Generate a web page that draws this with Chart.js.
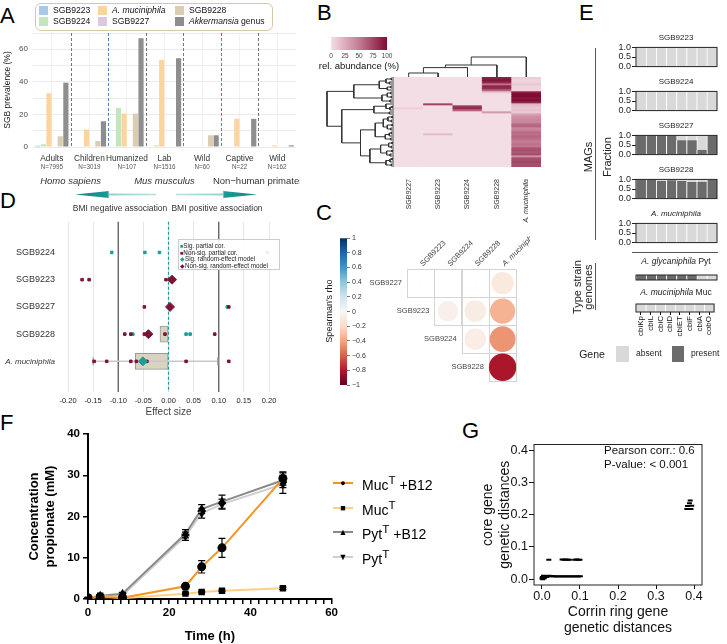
<!DOCTYPE html>
<html>
<head>
<meta charset="utf-8">
<title>Akkermansia SGBs</title>
<script src="https://cdn.jsdelivr.net/npm/chart.js@4.4.1/dist/chart.umd.min.js"></script>
<style>
  body { margin: 0; background: #fff; }
  #page { position: relative; width: 727px; height: 644px; overflow: hidden; font-family: "Liberation Sans", Arial, sans-serif; color: #222; }
  #page canvas { position: absolute; }
  .t { position: absolute; white-space: nowrap; line-height: 1.15; }
  .letter { position: absolute; font-size: 22px; line-height: 22px; color: #000; }
</style>
</head>
<body>
<div id="page"></div>
<script>
// ---------- A: prevalence (%) per host group ----------
const hostGroups = ['Adults', 'Children', 'Humanized', 'Lab', 'Wild', 'Captive', 'Wild'];
const hostN = ['N=7995', 'N=3019', 'N=107', 'N=1516', 'N=60', 'N=22', 'N=162'];
const prevSGB9223 = [0.8, 0.3, 0, 0, 0, 0, 0];
const prevSGB9224 = [1.7, 0.3, 24, 1.0, 0, 0, 0];
const prevMuc = [33, 10.7, 20.5, 53.5, 0, 17.3, 1.0];
const prevSGB9227 = [0, 0, 0, 0, 0, 0, 0];
const prevSGB9228 = [6.6, 3.6, 20.5, 0, 7.2, 0, 0];
const prevGenus = [39.5, 15.8, 66.8, 54.5, 7.2, 17.3, 1.0];
const speciesNames = ['Homo sapiens', 'Mus musculus', 'Non\u2212human primates'];
const speciesFirst = [0, 2, 5];
const speciesLast = [1, 4, 6];
const dividerColors = ['#777', '#5b7ec6', '#777', '#777', '#5b7ec6', '#777'];

// ---------- B: relative abundance heatmap ----------
const hmCols = ['SGB9227', 'SGB9223', 'SGB9224', 'SGB9228', 'A. muciniphila'];
const hm9227 = [0,0,0,0,0,0,0,0,0,0,0,0,0,0,0,8,0,0,0,0,0,0,0,0,0,0,0,0,0,0,0,0,0,0,0,0,0,0,0,0,0,0,0,0,0];
const hm9223 = [0,0,0,0,0,0,0,0,0,0,0,0,0,75,0,0,0,0,0,0,0,0,0,0,0,0,0,0,18,0,0,0,0,0,0,0,0,0,0,0,0,0,0,0,0];
const hm9224 = [0,0,0,0,0,0,0,0,0,0,0,0,0,0,80,85,60,0,0,0,0,0,0,0,0,0,0,0,0,0,0,0,0,0,0,0,0,0,0,0,0,0,0,0,0];
const hm9228 = [92,97,88,55,90,85,60,12,0,0,0,0,0,0,0,0,0,35,0,0,0,0,0,0,0,0,0,0,0,0,0,0,0,0,0,0,0,0,0,0,0,0,0,0,0];
const hmMuc  = [8,5,5,12,5,5,5,92,100,100,95,100,88,20,15,12,15,10,30,40,42,45,44,58,60,45,48,58,55,60,57,52,50,55,52,68,70,66,72,40,70,72,74,70,72];
const abundTicks = [0, 25, 50, 75, 100];
const colTree = [[[[0, 1, 0.2], 2, 0.47], 3, 0.6], 4, 1.0];
const rowTree = [
  [
    [[[0, 1, 0.04], [2, 3, 0.07], 0.12], [[4, 5, 0.05], 6, 0.1], 0.22],
    [[[7, 8, 0.05], [9, 10, 0.04], 0.1], [11, 12, 0.06], 0.18],
    0.6],
  [
    [[13, [[14, 15, 0.03], 16, 0.06], 0.12], [17, 18, 0.07], 0.3],
    [
      [[[[19, 20, 0.03], [21, 22, 0.04], 0.09], [[23, 24, 0.03], [25, 26, 0.05], 0.1], 0.16],
       [[[27, 28, 0.04], 29, 0.07], [30, 31, 0.05], 0.13], 0.28],
      [[[[32, 33, 0.03], [34, 35, 0.04], 0.08], [[36, 37, 0.03], [38, 39, 0.06], 0.11], 0.2],
       [[[40, 41, 0.03], 42, 0.06], [43, 44, 0.04], 0.12], 0.36],
      0.5],
    0.78],
  1.0];

// ---------- C: Spearman correlation ----------
const corrRows = ['SGB9227', 'SGB9223', 'SGB9224', 'SGB9228'];
const corrCols = ['SGB9223', 'SGB9224', 'SGB9228', 'A. muciniphila'];
const rhoSGB9227 = [-0.004, -0.006, 0, -0.1];
const rhoSGB9223 = [null, -0.05, -0.08, -0.35];
const rhoSGB9224 = [null, null, -0.07, -0.45];
const rhoSGB9228 = [null, null, null, -0.82];
const rhoTicks = [-1, -0.8, -0.6, -0.4, -0.2, 0, 0.2, 0.4, 0.6, 0.8, 1];

// ---------- D: BMI association effect sizes ----------
const dTaxa = ['SGB9224', 'SGB9223', 'SGB9227', 'SGB9228', 'A. muciniphila'];
const dSigPartialX = [-0.113, -0.047, -0.018, 0.117, -0.071, 0.035, 0.043];
const dSigPartialRow = [0, 0, 0, 2, 3, 3, 3];
const dNonSigPartialX = [0.025, 0.197, -0.172, -0.158, -0.005, -0.048, 0.12, -0.087, -0.075, -0.048, -0.007, 0.092, -0.148, -0.123, -0.075, -0.064, -0.043, 0.035, 0.12];
const dNonSigPartialRow = [0, 0, 1, 1, 1, 2, 2, 3, 3, 3, 3, 3, 4, 4, 4, 4, 4, 4, 4];
const dSigModelX = [-0.051];
const dSigModelRow = [4];
const dNonSigModelX = [0.04, 0.007, 0.003, -0.04];
const dNonSigModelRow = [0, 1, 2, 3];
const dBoxRow = [3, 4];
const dBoxLo = [-0.017, -0.066];
const dBoxHi = [0, 0];
const dWhiskerRow = 4;
const dWhiskerLo = -0.15;
const dWhiskerHi = 0.098;
const dRefLines = [-0.1, 0.1];

// ---------- E: corrin ring genes ----------
const genes = ['cbiKp', 'cbiL', 'cbiC', 'cbiD', 'cbiET', 'cbiF', 'cbiA', 'cobO'];
const magNames = ['SGB9223', 'SGB9224', 'SGB9227', 'SGB9228', 'A. muciniphila'];
const presentSGB9223 = [0, 0, 0, 0, 0, 0, 0, 0];
const presentSGB9224 = [0, 0, 0, 0, 0, 0, 0, 0];
const presentSGB9227 = [1, 1, 1, 1, 0.75, 0.75, 0.25, 1];
const presentSGB9228 = [1, 1, 0.92, 0.95, 0.92, 0.87, 0.88, 0.97];
const presentMuc = [0, 0, 0, 0, 0, 0, 0, 0];
const presentPytStrain = [1, 1, 1, 1, 1, 1, 0, 0];
const presentMucStrain = [0, 0, 0, 0, 0, 0, 0, 0];

// ---------- F: propionate production ----------
const timeH = [0, 3, 8.5, 24, 28, 33, 48];
const mucB12 = [0.3, 0.5, 0.3, 3.1, 7.8, 12.4, 29.2];
const mucB12Err = [0.1, 0.2, 0.1, 0.3, 1.5, 2.3, 1.6];
const mucNoB12 = [0.3, 0.8, 0.2, 1.3, 1.7, 2.0, 2.6];
const mucNoB12Err = [0, 0, 0, 0.2, 0.2, 0.2, 0.3];
const pytB12 = [0.3, 0.8, 1.3, 15.8, 21.8, 23.6, 28.8];
const pytB12Err = [0.1, 0.2, 0.3, 1.0, 1.1, 1.6, 1.8];
const pytNoB12 = [0.2, 0.6, 0.9, 15.2, 20.8, 23.0, 27.8];
const pytNoB12Err = [0.1, 0.2, 0.2, 1.0, 1.2, 1.2, 2.2];

// ---------- G: genetic distances ----------
const corrinDist = [0.000, 0.002, 0.003, 0.005, 0.006, 0.008, 0.010, 0.012, 0.014, 0.016, 0.018, 0.020, 0.023, 0.026, 0.030, 0.004, 0.001,
  0.018,
  0.053, 0.058, 0.063, 0.068, 0.072, 0.086, 0.091, 0.096, 0.100,
  0.036, 0.042, 0.048, 0.054, 0.060, 0.066, 0.072, 0.078, 0.084, 0.090, 0.096, 0.101,
  0.381, 0.392, 0.383, 0.394, 0.388, 0.390];
const coreDist = [0.002, 0.000, 0.006, 0.010, 0.003, 0.008, 0.010, 0.007, 0.010, 0.009, 0.011, 0.010, 0.009, 0.010, 0.009, 0.011, 0.007,
  0.060,
  0.061, 0.060, 0.061, 0.060, 0.060, 0.060, 0.061, 0.060, 0.060,
  0.008, 0.009, 0.008, 0.009, 0.008, 0.009, 0.008, 0.009, 0.008, 0.009, 0.008, 0.009,
  0.218, 0.218, 0.227, 0.228, 0.236, 0.244];

// ================= helpers =================
Chart.defaults.font.family = '"Liberation Sans", Arial, sans-serif';
Chart.defaults.color = '#333';
Chart.defaults.animation = false;
Chart.defaults.plugins.legend.display = false;
Chart.defaults.plugins.tooltip.enabled = false;

const page = document.getElementById('page');

function cv(left, top, w, h) {
  const c = document.createElement('canvas');
  c.width = w; c.height = h;
  c.style.left = left + 'px'; c.style.top = top + 'px';
  c.style.width = w + 'px'; c.style.height = h + 'px';
  page.appendChild(c);
  return c;
}
function txt(html, x, y, size, opts = {}) {
  const d = document.createElement('div');
  d.className = 't';
  d.innerHTML = html;
  d.style.fontSize = size + 'px';
  d.style.left = x + 'px';
  d.style.top = y + 'px';
  const align = opts.align || 'center';
  const tx = align === 'center' ? '-50%' : (align === 'right' ? '-100%' : '0');
  d.style.transform = `translate(${tx},-50%)`;
  if (opts.rot) d.style.transform = `translate(-50%,-50%) rotate(${opts.rot}deg)`;
  if (opts.color) d.style.color = opts.color;
  if (opts.style) d.style.cssText += opts.style;
  page.appendChild(d);
  return d;
}
function box(left, top, w, h, style) {
  const d = document.createElement('div');
  d.style.cssText = `position:absolute;left:${left}px;top:${top}px;width:${w}px;height:${h}px;` + style;
  page.appendChild(d);
  return d;
}
const fixW = w => s => { s.width = w; };
const fixH = h => s => { s.height = h; };
const frame = (color, lw) => ({
  id: 'frame',
  afterDraw(chart) {
    const { ctx, chartArea: a } = chart;
    ctx.save(); ctx.strokeStyle = color; ctx.lineWidth = lw;
    ctx.strokeRect(a.left, a.top, a.right - a.left, a.bottom - a.top);
    ctx.restore();
  }
});
function lerpColor(stops, t) {
  t = Math.max(0, Math.min(1, t));
  for (let i = 1; i < stops.length; i++) {
    if (t <= stops[i][0]) {
      const [t0, c0] = stops[i - 1], [t1, c1] = stops[i];
      const f = (t - t0) / (t1 - t0 || 1);
      return 'rgb(' + c0.map((v, k) => Math.round(v + (c1[k] - v) * f)).join(',') + ')';
    }
  }
  return 'rgb(' + stops[stops.length - 1][1].join(',') + ')';
}
const abundStops = [[0, [244, 222, 229]], [0.5, [196, 124, 148]], [1, [128, 12, 52]]];
const rdbuStops = [[0, [103, 0, 31]], [0.1, [178, 24, 43]], [0.2, [214, 96, 77]], [0.3, [244, 165, 130]], [0.4, [253, 219, 199]],
  [0.5, [247, 247, 247]], [0.6, [209, 229, 240]], [0.7, [146, 197, 222]], [0.8, [67, 147, 195]], [0.9, [33, 102, 172]], [1, [5, 48, 97]]];
const abundColor = v => lerpColor(abundStops, v / 100);
const rhoColor = v => lerpColor(rdbuStops, (v + 1) / 2);

// panel letters
[['A', 0, 5], ['B', 317, 2], ['C', 316, 202], ['D', 0, 190], ['E', 579, 2], ['F', 0, 412], ['G', 462, 420]].forEach(([l, x, y]) => {
  const d = document.createElement('div');
  d.className = 'letter'; d.textContent = l; d.style.left = x + 'px'; d.style.top = y + 'px';
  page.appendChild(d);
});

// ================= A =================
const aSeries = [
  ['SGB9223', '#aac8e8', prevSGB9223],
  ['SGB9224', '#c2e6bd', prevSGB9224],
  ['A. muciniphila', '#fdd49e', prevMuc],
  ['SGB9227', '#dcc6e0', prevSGB9227],
  ['SGB9228', '#dacdb2', prevSGB9228],
  ['Akkermansia genus', '#8e8e8e', prevGenus]
];
const aPlugin = {
  id: 'aLabels',
  beforeDatasetsDraw(chart) {
    const { ctx, chartArea: a, scales: { x } } = chart;
    ctx.save();
    ctx.setLineDash([3, 2]); ctx.lineWidth = 1;
    dividerColors.forEach((c, i) => {
      const px = Math.round((x.getPixelForValue(i) + x.getPixelForValue(i + 1)) / 2) + 0.5;
      ctx.strokeStyle = c;
      ctx.beginPath(); ctx.moveTo(px, a.top); ctx.lineTo(px, a.bottom); ctx.stroke();
    });
    ctx.restore();
  },
  afterDraw(chart) {
    const { ctx, scales: { x } } = chart;
    ctx.save(); ctx.textAlign = 'center';
    hostGroups.forEach((g, i) => {
      const px = x.getPixelForValue(i);
      ctx.fillStyle = '#333'; ctx.font = '8.3px "Liberation Sans"'; ctx.fillText(g, px, 161);
      ctx.fillStyle = '#555'; ctx.font = '6.3px "Liberation Sans"'; ctx.fillText(hostN[i], px, 168.5);
    });
    speciesNames.forEach((s, i) => {
      const px = (x.getPixelForValue(speciesFirst[i]) + x.getPixelForValue(speciesLast[i])) / 2;
      ctx.fillStyle = '#333';
      ctx.font = (i < 2 ? 'italic ' : '') + '9.5px "Liberation Sans"';
      ctx.fillText(s, px, 184);
    });
    ctx.restore();
  }
};
new Chart(cv(0, 0, 300, 195), {
  type: 'bar',
  data: {
    labels: hostGroups,
    datasets: aSeries.map(([name, color, data]) => ({ label: name, data, backgroundColor: color, categoryPercentage: 0.9, barPercentage: 0.92 }))
  },
  options: {
    responsive: false,
    layout: { padding: { top: 33, right: 4, left: 0, bottom: 0 } },
    scales: {
      x: { ticks: { display: false }, grid: { offset: false, color: '#f1f1f1', drawTicks: false }, border: { display: false }, afterFit: fixH(48) },
      y: {
        min: 0, max: 70,
        ticks: { stepSize: 10, callback: v => (v % 20 === 0 ? v : ''), font: { size: 8 }, color: '#4d4d4d', padding: 5 },
        grid: { color: '#ebebeb', drawTicks: false }, border: { display: false },
        title: { display: true, text: 'SGB prevalence (%)', font: { size: 8.5 }, color: '#222', padding: { top: 3, bottom: 2 } },
        afterFit: fixW(33)
      }
    }
  },
  plugins: [aPlugin]
});
// legend A
box(35, 3, 236, 26, 'border:1px solid #d5c8a7;border-radius:6px;background:#fff;');
aSeries.forEach(([name, color], i) => {
  const col = Math.floor(i / 2), row = i % 2;
  const x = [39, 98, 175][col], y = [11, 22][row];
  box(x, y - 5, 9, 9, 'background:' + color + ';');
  const html = name.replace('A. muciniphila', '<i>A. muciniphila</i>').replace('Akkermansia', '<i>Akkermansia</i>');
  txt(html, x + 14, y, 8.6, { align: 'left', color: '#111' });
});

// ================= B =================
// colour bar
new Chart(cv(320, 35, 80, 25), {
  type: 'bar',
  data: {
    labels: [''],
    datasets: [{
      data: [[0, 100]], categoryPercentage: 1, barPercentage: 1,
      backgroundColor: c => {
        const a = c.chart.chartArea; if (!a) return '#ccc';
        const g = c.chart.ctx.createLinearGradient(a.left, 0, a.right, 0);
        abundStops.forEach(([t, rgb]) => g.addColorStop(t, `rgb(${rgb.join(',')})`));
        return g;
      }
    }]
  },
  options: {
    responsive: false, indexAxis: 'y',
    layout: { padding: { left: 11, right: 13, top: 2, bottom: 0 } },
    scales: {
      y: { display: false },
      x: { min: 0, max: 100, afterBuildTicks: s => { s.ticks = abundTicks.map(v => ({ value: v })); },
           ticks: { font: { size: 6.5 }, color: '#444', padding: 2, autoSkip: false, maxRotation: 0 },
           grid: { display: false, drawTicks: false }, border: { display: false }, afterFit: fixH(10) }
    }
  }
});
txt('rel. abundance (%)', 359, 66, 9.5, { color: '#111' });

// heatmap
new Chart(cv(394, 77, 147, 150), {
  type: 'bar',
  data: {
    labels: hmCols,
    datasets: hm9227.map((_, k) => ({
      data: hmCols.map(() => [k, k + 1]),
      backgroundColor: [hm9227[k], hm9223[k], hm9224[k], hm9228[k], hmMuc[k]].map(abundColor),
      grouped: false, categoryPercentage: 1, barPercentage: 1, borderWidth: 0
    }))
  },
  options: {
    responsive: false,
    layout: { padding: 0 },
    scales: {
      y: { display: false, min: 0, max: hm9227.length, reverse: true },
      x: {
        ticks: { minRotation: 90, maxRotation: 90, padding: 4, color: '#333', autoSkip: false,
                 font: c => ({ size: 7, style: c.index === 4 ? 'italic' : 'normal' }) },
        grid: { display: false }, border: { display: false }, afterFit: fixH(60)
      }
    }
  }
});

function treeSegs(node) {
  if (typeof node === 'number') return { pos: node, h: 0, segs: [] };
  const a = treeSegs(node[0]), b = treeSegs(node[1]);
  const seg = [[a.pos, a.h], [a.pos, node[2]], [b.pos, node[2]], [b.pos, b.h]];
  return { pos: (a.pos + b.pos) / 2, h: node[2], segs: [...a.segs, ...b.segs, seg] };
}
// column dendrogram
new Chart(cv(394, 55, 147, 22), {
  type: 'scatter',
  data: { datasets: treeSegs(colTree).segs.map(s => ({ data: s.map(([p, h]) => ({ x: p, y: h })), showLine: true, borderColor: '#333', borderWidth: 1, pointRadius: 0 })) },
  options: { responsive: false, layout: { padding: 0 }, scales: { x: { display: false, min: -0.5, max: 4.5 }, y: { display: false, min: 0, max: 1.1 } } }
});
// row dendrogram
new Chart(cv(325, 77, 69, 90), {
  type: 'scatter',
  data: { datasets: treeSegs(rowTree).segs.map(s => ({ data: s.map(([p, h]) => ({ x: h, y: p + 0.5 })), showLine: true, borderColor: '#333', borderWidth: 1, pointRadius: 0 })) },
  options: { responsive: false, layout: { padding: 0 }, scales: { x: { display: false, min: 0, max: 1.03, reverse: true }, y: { display: false, min: 0, max: hm9227.length, reverse: true } } }
});

// ================= C =================
new Chart(cv(320, 232, 50, 160), {
  type: 'bar',
  data: {
    labels: [''],
    datasets: [{
      data: [[-1, 1]], categoryPercentage: 1, barPercentage: 1,
      backgroundColor: c => {
        const a = c.chart.chartArea; if (!a) return '#ccc';
        const g = c.chart.ctx.createLinearGradient(0, a.bottom, 0, a.top);
        rdbuStops.forEach(([t, rgb]) => g.addColorStop(t, `rgb(${rgb.join(',')})`));
        return g;
      }
    }]
  },
  options: {
    responsive: false,
    layout: { padding: { left: 20, right: 0, top: 6, bottom: 7 } },
    scales: {
      x: { display: false },
      y: {
        position: 'right', min: -1, max: 1,
        afterBuildTicks: s => { s.ticks = rhoTicks.map(v => ({ value: v })); },
        ticks: { font: { size: 7 }, color: '#333', padding: 2, autoSkip: false,
                 callback: v => (Math.abs(v) < 1e-9 ? '0' : (v < 0 ? '\u2212' : '') + parseFloat(Math.abs(v).toFixed(1))) },
        grid: { drawOnChartArea: false, tickLength: 3, color: '#777' }, border: { display: false },
        afterFit: fixW(23)
      }
    }
  }
});
txt("Spearman's rho", 329, 311, 9, { rot: -90, color: '#222' });

const rhoMatrix = [rhoSGB9227, rhoSGB9223, rhoSGB9224, rhoSGB9228];
const corrPoints = [];
rhoMatrix.forEach((row, i) => row.forEach((v, j) => { if (v !== null) corrPoints.push({ x: j, y: i, v }); }));
const cPlugin = {
  id: 'cGrid',
  beforeDatasetsDraw(chart) {
    const { ctx, scales: { x, y } } = chart;
    ctx.save(); ctx.strokeStyle = '#d4d4d4'; ctx.lineWidth = 1;
    corrPoints.forEach(p => {
      const x0 = x.getPixelForValue(p.x - 0.5), x1 = x.getPixelForValue(p.x + 0.5);
      const y0 = y.getPixelForValue(p.y - 0.5), y1 = y.getPixelForValue(p.y + 0.5);
      ctx.strokeRect(Math.round(x0) + 0.5, Math.round(y0) + 0.5, Math.round(x1 - x0), Math.round(y1 - y0));
    });
    ctx.restore();
  },
  afterDraw(chart) {
    const { ctx, scales: { x, y } } = chart;
    ctx.save(); ctx.fillStyle = '#444';
    corrRows.forEach((name, i) => {
      ctx.font = '7.5px "Liberation Sans"'; ctx.textAlign = 'right'; ctx.textBaseline = 'middle';
      ctx.fillText(name, x.getPixelForValue(i - 0.5) - 5, y.getPixelForValue(i));
    });
    corrCols.forEach((name, j) => {
      ctx.save();
      ctx.translate(x.getPixelForValue(j) + 1, y.getPixelForValue(-0.5) - 4);
      ctx.rotate(-Math.PI / 4);
      ctx.font = (j === 3 ? 'italic ' : '') + '7.5px "Liberation Sans"';
      ctx.textAlign = 'left'; ctx.textBaseline = 'middle';
      ctx.fillText(name, 0, 0);
      ctx.restore();
    });
    ctx.restore();
  }
};
new Chart(cv(355, 225, 175, 170), {
  type: 'scatter',
  data: {
    datasets: [{
      data: corrPoints,
      pointRadius: c => (Math.abs(c.raw.v) < 0.02 ? 0.8 : 14 * Math.pow(Math.abs(c.raw.v), 0.1)),
      backgroundColor: c => rhoColor(c.raw.v), borderWidth: 0
    }]
  },
  options: {
    responsive: false,
    layout: { padding: { left: 52, right: 5, top: 44, bottom: 8 } },
    scales: { x: { display: false, min: -0.5, max: 3.5 }, y: { display: false, min: -0.5, max: 3.5, reverse: true } }
  },
  plugins: [cPlugin]
});

// ================= D =================
const teal = '#1f9c9a', maroon = '#7d1435';
function arrow(left, top, w, dir) {
  const d = box(left, top, w, 7, '');
  const g = dir > 0 ? 'to right' : 'to left';
  d.style.background = `linear-gradient(${g}, #b5e2df 0%, #8fd2cd 58%, #1a9893 60%, #0f8a85 100%)`;
  d.style.clipPath = dir > 0
    ? 'polygon(0 40%, 58% 36%, 58% 0, 100% 50%, 58% 100%, 58% 64%, 0 60%)'
    : 'polygon(100% 40%, 42% 36%, 42% 0, 0 50%, 42% 100%, 42% 64%, 100% 60%)';
}
arrow(75, 191, 81, -1);
arrow(176, 191, 81, 1);
txt('BMI negative association', 120, 209, 8.5, { color: '#333' });
txt('BMI positive association', 217, 209, 8.5, { color: '#333' });

const dPlugin = {
  id: 'dRef',
  beforeDatasetsDraw(chart) {
    const { ctx, chartArea: a, scales: { x } } = chart;
    ctx.save();
    ctx.strokeStyle = '#666'; ctx.lineWidth = 1.4;
    dRefLines.forEach(v => {
      const px = x.getPixelForValue(v);
      ctx.beginPath(); ctx.moveTo(px, a.top); ctx.lineTo(px, a.bottom); ctx.stroke();
    });
    ctx.setLineDash([3, 2]); ctx.strokeStyle = teal; ctx.lineWidth = 1.2;
    const p0 = x.getPixelForValue(0);
    ctx.beginPath(); ctx.moveTo(p0, a.top); ctx.lineTo(p0, a.bottom); ctx.stroke();
    ctx.restore();
  }
};
const pts = (xs, rows) => xs.map((v, i) => ({ x: v, y: rows[i] }));
new Chart(cv(0, 212, 282, 210), {
  type: 'scatter',
  data: {
    datasets: [
      { data: pts(dNonSigModelX, dNonSigModelRow), pointStyle: 'rectRot', pointRadius: 4.5, backgroundColor: maroon, borderColor: maroon },
      { data: pts(dSigModelX, dSigModelRow), pointStyle: 'rectRot', pointRadius: 4.5, backgroundColor: teal, borderColor: teal },
      { data: pts(dNonSigPartialX, dNonSigPartialRow), pointStyle: 'rect', pointRadius: 1.8, backgroundColor: maroon, borderColor: maroon },
      { data: pts(dSigPartialX, dSigPartialRow), pointStyle: 'rect', pointRadius: 1.8, backgroundColor: teal, borderColor: teal },
      { type: 'scatter', data: [{ x: dWhiskerLo, y: dWhiskerRow }, { x: dWhiskerHi, y: dWhiskerRow }], pointStyle: 'line', rotation: 90, pointRadius: 4, borderColor: '#aaa', borderWidth: 1.5 },
      { type: 'line', data: [{ x: dWhiskerLo, y: dWhiskerRow }, { x: dWhiskerHi, y: dWhiskerRow }], borderColor: '#c8c8c8', borderWidth: 1.5, pointRadius: 0 },
      { type: 'bar', indexAxis: 'y', data: dBoxRow.map((r, i) => ({ y: r, x: [dBoxLo[i], dBoxHi[i]] })), barThickness: 16,
        backgroundColor: '#d8d4c0', borderColor: '#999', borderWidth: 1, borderSkipped: false }
    ]
  },
  options: {
    responsive: false,
    layout: { padding: { top: 3, right: 13, left: 0, bottom: 0 } },
    scales: {
      x: {
        type: 'linear', min: -0.2, max: 0.2,
        ticks: { stepSize: 0.05, callback: v => v.toFixed(2), font: { size: 7.5 }, color: '#222', padding: 4 },
        grid: { color: '#e6e6e6', drawTicks: false }, border: { display: false },
        title: { display: true, text: 'Effect size', font: { size: 10 }, color: '#444', padding: { top: 0, bottom: 4 } },
        afterFit: fixH(30)
      },
      y: {
        type: 'linear', min: -0.5, max: 4.5, reverse: true,
        afterBuildTicks: s => { s.ticks = dTaxa.map((_, i) => ({ value: i })); },
        ticks: { callback: v => dTaxa[v], color: '#333', padding: 5, autoSkip: false,
                 font: c => (c.index === 4 ? { size: 8, style: 'italic' } : { size: 9, style: 'normal' }) },
        grid: { display: false }, border: { display: false }, afterFit: fixW(68)
      }
    }
  },
  plugins: [dPlugin]
});
// legend D
box(178, 239, 100, 29, 'border:1px solid #ccc;background:rgba(255,255,255,0.92);');
[['\u25A0', teal, 'Sig. partial cor.'], ['\u25A0', maroon, 'Non-sig. partial cor.'],
 ['\u25C6', teal, 'Sig. random-effect model'], ['\u25C6', maroon, 'Non-sig. random-effect model']].forEach(([g, c, l], i) => {
  txt(`<span style="color:${c};font-size:5.5px">${g}</span>${l}`, 180, 246 + i * 6.7, 6.3, { align: 'left', color: '#222', style: 'line-height:7px;' });
});

// ================= E =================
const grey = '#6b6b6b', light = '#d9d9d9';
function geneChart(top, h, present, showY, showGenes) {
  const extra = showGenes ? 30 : 0;
  new Chart(cv(606, top - 3, 114, h + 6 + extra), {
    type: 'bar',
    data: {
      labels: genes,
      datasets: [
        { data: present, backgroundColor: grey },
        { data: present.map(p => 1 - p), backgroundColor: light }
      ]
    },
    options: {
      responsive: false,
      layout: { padding: { top: 3, right: 3, bottom: showGenes ? 0 : 3, left: 0 } },
      datasets: { bar: { categoryPercentage: 1, barPercentage: 1, borderColor: '#fff', borderWidth: { left: 1, right: 0, top: 0, bottom: 0 }, borderSkipped: false } },
      scales: {
        x: {
          stacked: true, display: showGenes,
          ticks: { minRotation: 90, maxRotation: 90, font: { size: 8 }, color: '#111', padding: 1, autoSkip: false },
          grid: { drawOnChartArea: false, offset: false, tickLength: 3, color: '#111' }, border: { display: false },
          afterFit: fixH(extra)
        },
        y: {
          stacked: true, min: 0, max: 1, display: showY,
          afterBuildTicks: s => { s.ticks = [0, 0.5, 1].map(v => ({ value: v })); },
          ticks: { callback: v => v.toFixed(1), font: { size: 9 }, color: '#222', padding: 1, autoSkip: false },
          grid: { drawOnChartArea: false, tickLength: 4, color: '#222' }, border: { display: false },
          afterFit: fixW(30)
        }
      }
    },
    plugins: [frame('#222', 1)]
  });
}
const magPresent = [presentSGB9223, presentSGB9224, presentSGB9227, presentSGB9228, presentMuc];
magPresent.forEach((p, i) => {
  const top = 44 + i * 44;
  geneChart(top, 26, p, true, false);
  txt(i === 4 ? '<i>' + magNames[i] + '</i>' : magNames[i], 676, top - 6, 8, { color: '#222' });
});
geneChart(275, 5, presentPytStrain, false, false);
geneChart(304, 5, presentMucStrain, false, true);
txt('<i>A. glycaniphila</i> Pyt', 676, 262, 8.5, { color: '#222' });
txt('<i>A. muciniphila</i> Muc', 676, 293, 8.5, { color: '#222' });
box(632, 252, 86, 1, 'background:#555;');
box(595, 48, 1, 192, 'background:#555;');
box(595, 263, 1, 47, 'background:#555;');
txt('MAGs', 588, 157, 11, { rot: -90, color: '#222' });
txt('Fraction', 607, 157, 11, { rot: -90, color: '#222' });
txt('Type strain<br>genomes', 583, 287, 11, { rot: -90, color: '#222', style: 'line-height:11px;text-align:center;' });
txt('Gene', 592, 354, 10.5, { color: '#222' });
box(616, 346, 13, 16, 'background:' + light + ';');
txt('absent', 636, 354, 8.5, { align: 'left', color: '#222' });
box(672, 346, 12, 16, 'background:' + grey + ';');
txt('present', 691, 354, 8.5, { align: 'left', color: '#222' });

// ================= F =================
const fSeries = [
  ['Pyt<sup>T</sup>', pytNoB12, pytNoB12Err, '#cfcfcf', 'triangle', 180],
  ['Pyt<sup>T</sup> +B12', pytB12, pytB12Err, '#8a8a8a', 'triangle', 0],
  ['Muc<sup>T</sup>', mucNoB12, mucNoB12Err, '#fdd080', 'rect', 0],
  ['Muc<sup>T</sup> +B12', mucB12, mucB12Err, '#f7931e', 'circle', 0]
];
const errPlugin = {
  id: 'errBars',
  afterDatasetsDraw(chart) {
    const { ctx, scales: { x, y } } = chart;
    ctx.save(); ctx.strokeStyle = '#000'; ctx.lineWidth = 1.2;
    chart.data.datasets.forEach(ds => {
      ds.data.forEach((p, i) => {
        const e = ds.errors[i]; if (!e) return;
        const px = x.getPixelForValue(p.x), y1 = y.getPixelForValue(p.y - e), y2 = y.getPixelForValue(p.y + e);
        ctx.beginPath();
        ctx.moveTo(px, y1); ctx.lineTo(px, y2);
        ctx.moveTo(px - 3.5, y1); ctx.lineTo(px + 3.5, y1);
        ctx.moveTo(px - 3.5, y2); ctx.lineTo(px + 3.5, y2);
        ctx.stroke();
      });
    });
    ctx.restore();
  }
};
new Chart(cv(0, 415, 340, 229), {
  type: 'line',
  data: {
    datasets: fSeries.map(([name, vals, err, color, style, rot]) => ({
      label: name, data: timeH.map((t, i) => ({ x: t, y: vals[i] })), errors: err,
      borderColor: color, borderWidth: 2, pointStyle: style, rotation: rot,
      pointRadius: style === 'triangle' ? 5 : 4.5, pointBackgroundColor: '#000', pointBorderColor: '#000', pointBorderWidth: 0
    })).reverse()
  },
  options: {
    responsive: false,
    layout: { padding: { top: 19, right: 7, left: 0, bottom: 0 } },
    scales: {
      x: {
        type: 'linear', min: 0, max: 60,
        afterBuildTicks: s => { s.ticks = Array.from({ length: 31 }, (_, i) => ({ value: i * 2 })); },
        ticks: { autoSkip: false, callback: v => (v % 20 === 0 ? v : ''), font: { size: 11.5, weight: 'bold' }, color: '#000', padding: 2, maxRotation: 0 },
        grid: { drawOnChartArea: false, tickLength: 5, color: '#000', lineWidth: 1.5 },
        border: { color: '#000', width: 2 },
        title: { display: true, text: 'Time (h)', font: { size: 13, weight: 'bold' }, color: '#000', padding: { top: 0, bottom: 0 } },
        afterFit: fixH(45)
      },
      y: {
        min: 0, max: 40,
        ticks: { stepSize: 10, font: { size: 11.5, weight: 'bold' }, color: '#000', padding: 3 },
        grid: { drawOnChartArea: false, tickLength: 5, color: '#000', lineWidth: 1.5 },
        border: { color: '#000', width: 2 },
        title: { display: true, text: ['Concentration', 'propionate (mM)'], font: { size: 13, weight: 'bold' }, color: '#000', padding: { top: 27, bottom: 0 } },
        afterFit: fixW(88)
      }
    }
  },
  plugins: [errPlugin]
});
const fMarks = { circle: '\u25CF', rect: '\u25A0', triangle: '\u25B2' };
fSeries.slice().reverse().forEach(([name, , , color, style, rot], i) => {
  const y = 483 + i * 24.5;
  box(333, y - 1, 20, 2, 'background:' + color + ';');
  txt(style === 'triangle' && rot ? '\u25BC' : fMarks[style], 343, y, 9, { color: '#000' });
  txt(name, 362, y, 14, { align: 'left', color: '#000' });
});

// ================= G =================
new Chart(cv(470, 436, 245, 208), {
  type: 'scatter',
  data: { datasets: [{ data: corrinDist.map((v, i) => ({ x: v, y: coreDist[i] })), pointStyle: 'line', pointRadius: 2.5, borderColor: '#000', borderWidth: 2 }] },
  options: {
    responsive: false,
    layout: { padding: { top: 6, right: 13, left: 0, bottom: 0 } },
    scales: {
      x: {
        min: -0.021, max: 0.421,
        afterBuildTicks: s => { s.ticks = [0, 0.1, 0.2, 0.3, 0.4].map(v => ({ value: v })); },
        ticks: { callback: v => v.toFixed(1), font: { size: 12.5 }, color: '#111', padding: 0, autoSkip: false },
        grid: { drawOnChartArea: false, tickLength: 4, color: '#111' }, border: { display: false },
        title: { display: true, text: ['Corrin ring gene', 'genetic distances'], font: { size: 14 }, color: '#111', padding: { top: 0, bottom: 7 } },
        afterFit: fixH(59)
      },
      y: {
        min: -0.018, max: 0.418,
        afterBuildTicks: s => { s.ticks = [0, 0.1, 0.2, 0.3, 0.4].map(v => ({ value: v })); },
        ticks: { callback: v => v.toFixed(1), font: { size: 12.5 }, color: '#111', padding: 1, autoSkip: false },
        grid: { drawOnChartArea: false, tickLength: 5, color: '#111' }, border: { display: false },
        title: { display: true, text: ['core gene', 'genetic distances'], font: { size: 14 }, color: '#111', padding: { top: 10, bottom: 0 } },
        afterFit: fixW(64)
      }
    }
  },
  plugins: [frame('#222', 1)]
});
txt('Pearson corr.: 0.6<br>P-value: &lt; 0.001', 604, 457, 11.5, { align: 'left', color: '#111', style: 'line-height:14px;' });
</script>
</body>
</html>
